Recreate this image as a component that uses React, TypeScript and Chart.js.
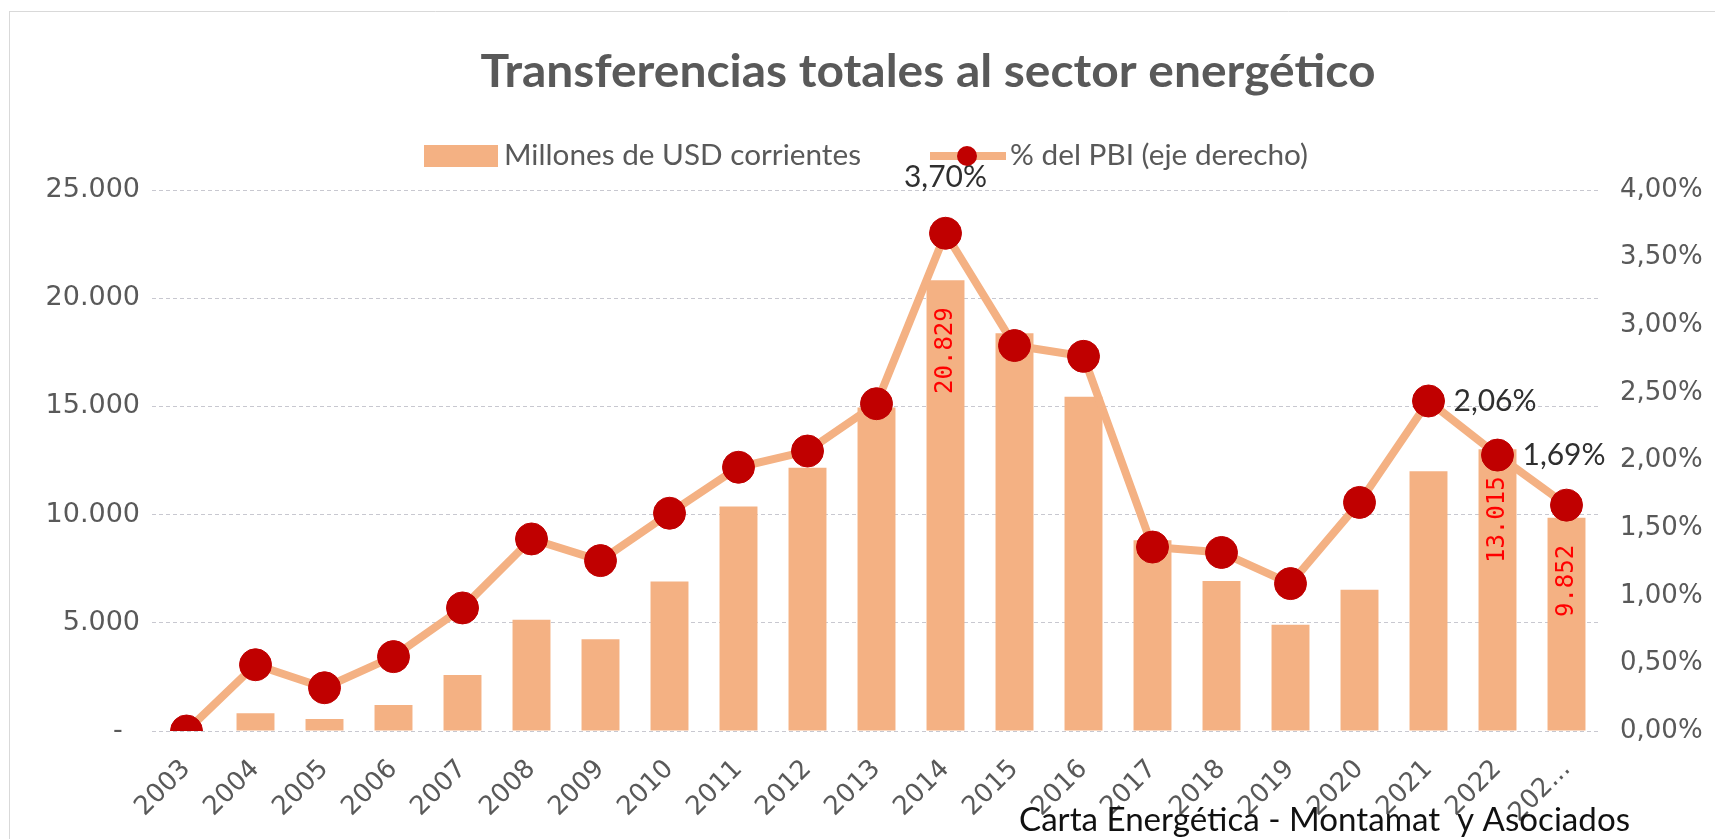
import React, { useEffect, useRef } from 'react';
import { Chart, registerables } from 'chart.js';

Chart.register(...registerables);

const categories = ['2003', '2004', '2005', '2006', '2007', '2008', '2009', '2010', '2011', '2012', '2013', '2014', '2015', '2016', '2017', '2018', '2019', '2020', '2021', '2022', '202...'];

const usdMillions = [0, 820, 555, 1204, 2593, 5139, 4245, 6912, 10370, 12162, 14950, 20829, 18380, 15450, 8811, 6930, 4907, 6528, 12005, 13015, 9852];

const pctPBI = [0.0, 0.49, 0.32, 0.55, 0.91, 1.42, 1.26, 1.61, 1.95, 2.07, 2.42, 3.68, 2.85, 2.77, 1.36, 1.32, 1.09, 1.69, 2.44, 2.04, 1.67];

const usdLabels = ['', '', '', '', '', '', '', '', '', '', '', '20.829', '', '', '', '', '', '', '', '13.015', '9.852'];

const pctLabels = ['', '', '', '', '', '', '', '', '', '', '', '3,70%', '', '', '', '', '', '', '2,06%', '1,69%', ''];
const pctLabelSide = ['', '', '', '', '', '', '', '', '', '', '', 'top', '', '', '', '', '', '', 'right', 'right', ''];

const TITLE = 'Transferencias totales al sector energético';
const LEGEND_BAR = 'Millones de USD corrientes';
const LEGEND_LINE = '% del PBI (eje derecho)';
const FOOTER = 'Carta Energética - Montamat  y Asociados';

const BAR_COLOR = '#F4B183';
const MARKER_COLOR = '#C00000';
const TEXT_GRAY = '#595959';

const fmtThousands = (v: number) =>
  v === 0 ? '-  ' : String(v).replace(/\B(?=(\d{3})+(?!\d))/g, '.');
const fmtPct = (v: number) => v.toFixed(2).replace('.', ',') + '%';

function fitText(ctx: CanvasRenderingContext2D, text: string, x: number, y: number, targetW: number, align: CanvasTextAlign) {
  const w = ctx.measureText(text).width;
  const s = targetW / w;
  ctx.save();
  ctx.translate(x, y);
  ctx.scale(s, 1);
  ctx.textAlign = align;
  ctx.fillText(text, 0, 0);
  ctx.restore();
}

const decorPlugin = {
  id: 'decor',
  beforeDraw(chart: any) {
    const ctx = chart.ctx as CanvasRenderingContext2D;
    ctx.save();
    ctx.fillStyle = '#ffffff';
    ctx.fillRect(0, 0, chart.width, chart.height);
    ctx.strokeStyle = '#D9D9D9';
    ctx.lineWidth = 1;
    ctx.beginPath();
    ctx.moveTo(9.5, 11);
    ctx.lineTo(9.5, chart.height);
    ctx.moveTo(9, 11.5);
    ctx.lineTo(chart.width, 11.5);
    ctx.stroke();
    ctx.restore();
  },
  afterDatasetsDraw(chart: any) {
    const ctx = chart.ctx as CanvasRenderingContext2D;
    const barMeta = chart.getDatasetMeta(1);
    const lineMeta = chart.getDatasetMeta(0);
    ctx.save();
    // bar value labels (rotated, red)
    ctx.font = '24px "DejaVu Sans Mono"';
    ctx.fillStyle = '#FF0000';
    ctx.textBaseline = 'middle';
    usdLabels.forEach((t, i) => {
      if (!t) return;
      const el = barMeta.data[i];
      ctx.save();
      ctx.translate(el.x, el.y + 27);
      ctx.rotate(-Math.PI / 2);
      ctx.textAlign = 'right';
      ctx.fillText(t, 0, 0);
      ctx.restore();
    });
    // percentage labels
    ctx.font = '30px Lato';
    ctx.fillStyle = '#2F2F2F';
    pctLabels.forEach((t, i) => {
      if (!t) return;
      const el = lineMeta.data[i];
      if (pctLabelSide[i] === 'top') {
        ctx.textAlign = 'center';
        ctx.textBaseline = 'alphabetic';
        ctx.fillText(t, el.x, el.y - 46);
      } else {
        ctx.textAlign = 'left';
        ctx.textBaseline = 'middle';
        ctx.fillText(t, el.x + 25, el.y);
      }
    });
    ctx.restore();
  },
  afterDraw(chart: any) {
    const ctx = chart.ctx as CanvasRenderingContext2D;
    ctx.save();
    // title
    ctx.font = 'bold 46px Lato';
    ctx.fillStyle = TEXT_GRAY;
    ctx.textBaseline = 'alphabetic';
    fitText(ctx, TITLE, 928, 87, 895, 'center');
    // legend
    ctx.fillStyle = BAR_COLOR;
    ctx.fillRect(424, 145, 74, 22);
    ctx.font = '29px Lato';
    ctx.fillStyle = TEXT_GRAY;
    ctx.textBaseline = 'middle';
    fitText(ctx, LEGEND_BAR, 504, 156, 357, 'left');
    ctx.strokeStyle = BAR_COLOR;
    ctx.lineWidth = 8;
    ctx.beginPath();
    ctx.moveTo(930, 156);
    ctx.lineTo(1006, 156);
    ctx.stroke();
    ctx.fillStyle = MARKER_COLOR;
    ctx.beginPath();
    ctx.arc(967, 156, 10, 0, Math.PI * 2);
    ctx.fill();
    ctx.fillStyle = TEXT_GRAY;
    fitText(ctx, LEGEND_LINE, 1010, 156, 298, 'left');
    // footer
    ctx.font = '32px Lato';
    ctx.fillStyle = '#111111';
    fitText(ctx, FOOTER, 1019, 821, 611, 'left');
    ctx.restore();
  },
};

export default function App() {
  const ref = useRef<HTMLCanvasElement>(null);
  useEffect(() => {
    if (!ref.current) return;
    const chart = new Chart(ref.current, {
      type: 'bar',
      data: {
        labels: categories,
        datasets: [
          {
            type: 'line',
            label: LEGEND_LINE,
            data: pctPBI,
            yAxisID: 'y1',
            borderColor: BAR_COLOR,
            borderWidth: 8,
            pointRadius: 16,
            pointBackgroundColor: MARKER_COLOR,
            pointBorderColor: MARKER_COLOR,
            pointBorderWidth: 1,
            tension: 0,
            order: 0,
          } as any,
          {
            type: 'bar',
            label: LEGEND_BAR,
            data: usdMillions,
            yAxisID: 'y',
            backgroundColor: BAR_COLOR,
            categoryPercentage: 1,
            barPercentage: 0.55,
            order: 1,
          },
        ],
      },
      plugins: [decorPlugin],
      options: {
        responsive: false,
        animation: false,
        devicePixelRatio: 1,
        layout: { padding: { left: 12, right: 0, top: 190, bottom: 0 } },
        plugins: {
          legend: { display: false },
          title: { display: false },
          tooltip: { enabled: false },
        },
        scales: {
          x: {
            grid: { display: false },
            border: { display: false },
            ticks: {
              font: { family: 'DejaVu Sans', size: 26 },
              color: TEXT_GRAY,
              minRotation: 45,
              maxRotation: 45,
              autoSkip: false,
              padding: 15,
            },
            afterFit: (s: any) => {
              s.height = 108;
            },
          },
          y: {
            position: 'left',
            min: 0,
            max: 25000,
            grid: { color: '#C8C8D0', drawTicks: false },
            border: { display: false, dash: [4, 3] },
            ticks: {
              stepSize: 5000,
              callback: (v: any) => fmtThousands(Number(v)),
              font: { family: 'DejaVu Sans', size: 27 },
              color: TEXT_GRAY,
              padding: 12,
            },
            afterFit: (s: any) => {
              s.width = 140;
            },
          },
          y1: {
            position: 'right',
            min: 0,
            max: 4,
            grid: { display: false, drawTicks: false },
            border: { display: false },
            ticks: {
              stepSize: 0.5,
              callback: (v: any) => fmtPct(Number(v)),
              font: { family: 'DejaVu Sans', size: 26 },
              color: TEXT_GRAY,
              padding: 19,
            },
            afterFit: (s: any) => {
              s.width = 114;
            },
          },
        },
      } as any,
    });
    return () => chart.destroy();
  }, []);
  return (
    <div style={{ position: 'fixed', left: 0, top: 0, width: 1715, height: 839, background: '#fff' }}>
      <canvas ref={ref} width={1715} height={839} style={{ display: 'block' }} />
    </div>
  );
}
